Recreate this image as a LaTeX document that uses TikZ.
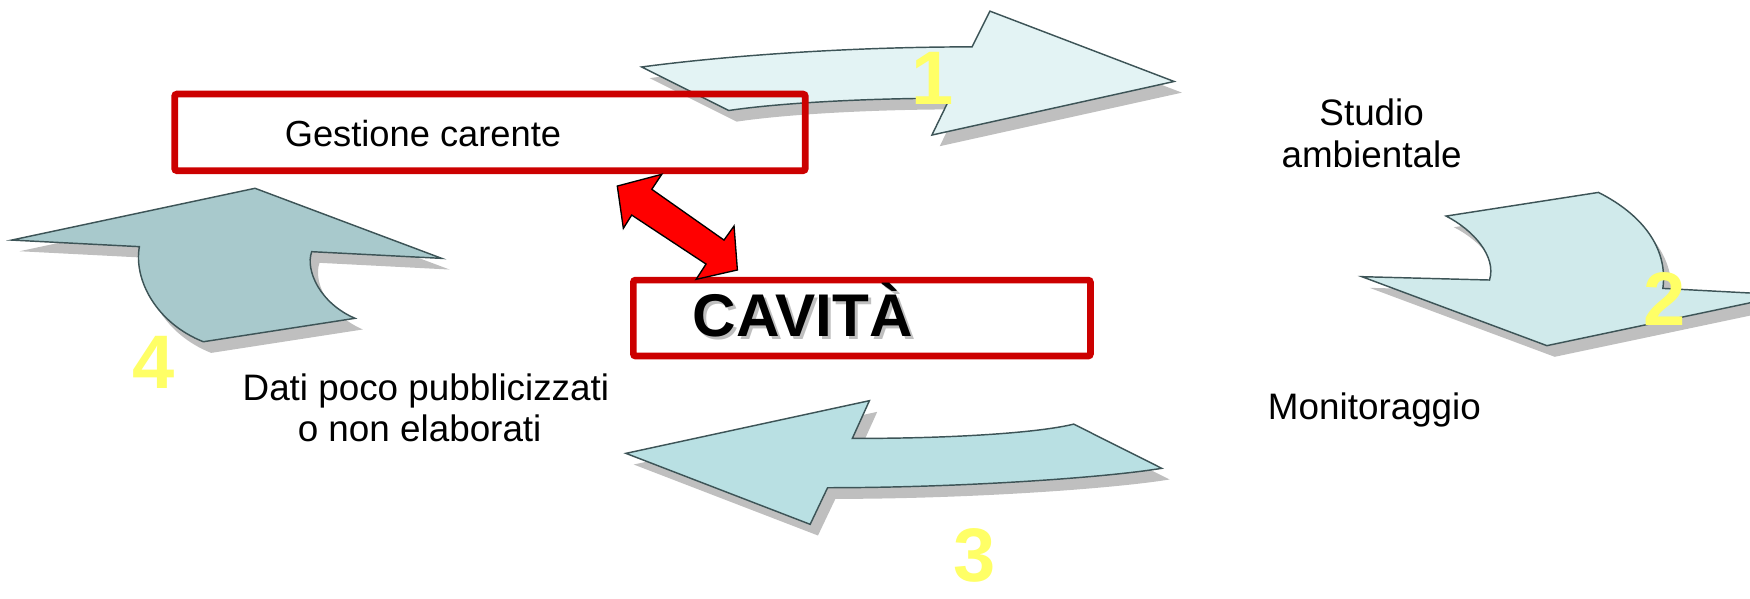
\documentclass[tikz,border=0pt]{standalone}
\usepackage{fontspec}
\setmainfont{Liberation Sans}
\definecolor{outl}{HTML}{3D5457}
\definecolor{shad}{HTML}{BFBFBF}
\definecolor{aone}{HTML}{E3F3F4}
\definecolor{atwo}{HTML}{D0EAEB}
\definecolor{athree}{HTML}{B9E0E3}
\definecolor{afour}{HTML}{A8C9CC}
\definecolor{boxred}{HTML}{CC0000}
\definecolor{arrred}{HTML}{FF0000}
\definecolor{digit}{HTML}{FFFF66}
\tikzset{
  bigarrow/.style={draw=outl, line width=1.3pt, line join=miter},
  shadowshape/.style={fill=shad, draw=none, shift={(7,10)}},
  redbox/.style={draw=boxred, line width=6pt, rounded corners=2pt},
  lbl/.style={font=\fontsize{33}{38}\selectfont, inner sep=0pt, anchor=base},
  num/.style={font=\fontsize{68}{80}\selectfont\bfseries, text=digit, inner sep=0pt, anchor=base},
}
\def\arrowone{(575,60) .. controls (650,50) and (760,42) .. (871,42) -- (887,10) -- (1052,73) -- (835,121) -- (851,88) .. controls (780,88) and (700,92) .. (653,99) -- cycle}
\def\arrowtwo{(1220.2,247.9) -- (1334.6,250.9) .. controls (1341.1,230) and (1320.2,206.1) .. (1295.7,193.6) -- (1432.2,172.4) .. controls (1469.6,191.2) and (1495,221) .. (1489.9,258.4) -- (1601.3,264.3) -- (1386,309.7) -- cycle}
\def\arrowthree{(560.8,406.2) -- (779,359) -- (763.7,392.8) .. controls (850,393) and (930,388) .. (962,380) -- (1040.9,419.6) .. controls (990,428) and (860,437) .. (741.5,437) -- (725.9,469.8) -- cycle}
\def\arrowfour{(10.5,215.1) -- (228.5,168.7) -- (395.8,231.5) -- (279.3,225.5) .. controls (273.3,241.9) and (286.7,271.8) .. (318.1,285.2) -- (182.2,306.2) .. controls (140.4,289.7) and (119.5,250.9) .. (124.9,221) -- cycle}
\begin{document}
\begin{tikzpicture}[x=1pt, y=-1pt]
  \useasboundingbox (0,0) rectangle (1568,536);
  \begin{scope}
    \clip (0,0) rectangle (1568,536);
    % arrow 1
    \fill[shadowshape] \arrowone;
    \filldraw[bigarrow, fill=aone] \arrowone;
    % arrow 2
    \fill[shadowshape] \arrowtwo;
    \filldraw[bigarrow, fill=atwo] \arrowtwo;
    % arrow 3
    \fill[shadowshape] \arrowthree;
    \filldraw[bigarrow, fill=athree] \arrowthree;
    % arrow 4
    \fill[shadowshape] \arrowfour;
    \filldraw[bigarrow, fill=afour] \arrowfour;
  \end{scope}

  % boxes
  \draw[redbox] (156.5,84.3) rectangle (721.5,152.9);
  \draw[redbox] (567.5,251) rectangle (977,319);
  \node[font=\fontsize{32.5}{38}\selectfont, inner sep=0pt, anchor=base west] (gest) at (255,131.5) {Gestione carente};
  \node[font=\fontsize{54}{60}\selectfont\bfseries, text=shad, inner sep=0pt, anchor=base west] (cavshadow) at (623.2,304.2) {CAVITÀ};
  \node[font=\fontsize{54}{60}\selectfont\bfseries, text=black, inner sep=0pt, anchor=base west] (cav) at (620.7,301.7) {CAVITÀ};

  % double red arrow
  \filldraw[fill=arrred, draw=black, line width=1.2pt, line join=miter]
    (553.1,166.7) -- (592.9,156.2) -- (584,169.6) -- (648.7,215.1) -- (657.7,202.5)
    -- (660.7,241.9) -- (623.7,250.3) -- (632.6,236.6) -- (566,192.7) -- (558.5,204.6) -- cycle;

  % labels
  \node[lbl] (studio) at (1229,112) {Studio};
  \node[lbl] (ambient) at (1229,150) {ambientale};
  \node[lbl] (monit) at (1231.5,376) {Monitoraggio};
  \node[lbl] (dati) at (381.6,359) {Dati poco pubblicizzati};
  \node[lbl] (elab) at (376,396) {o non elaborati};

  % digits
  \node[num] (n1) at (836,94) {1};
  \node[num] (n2) at (1491.6,292) {2};
  \node[num] (n3) at (873.5,521) {3};
  \node[num] (n4) at (138,348) {4};
\end{tikzpicture}
\end{document}
